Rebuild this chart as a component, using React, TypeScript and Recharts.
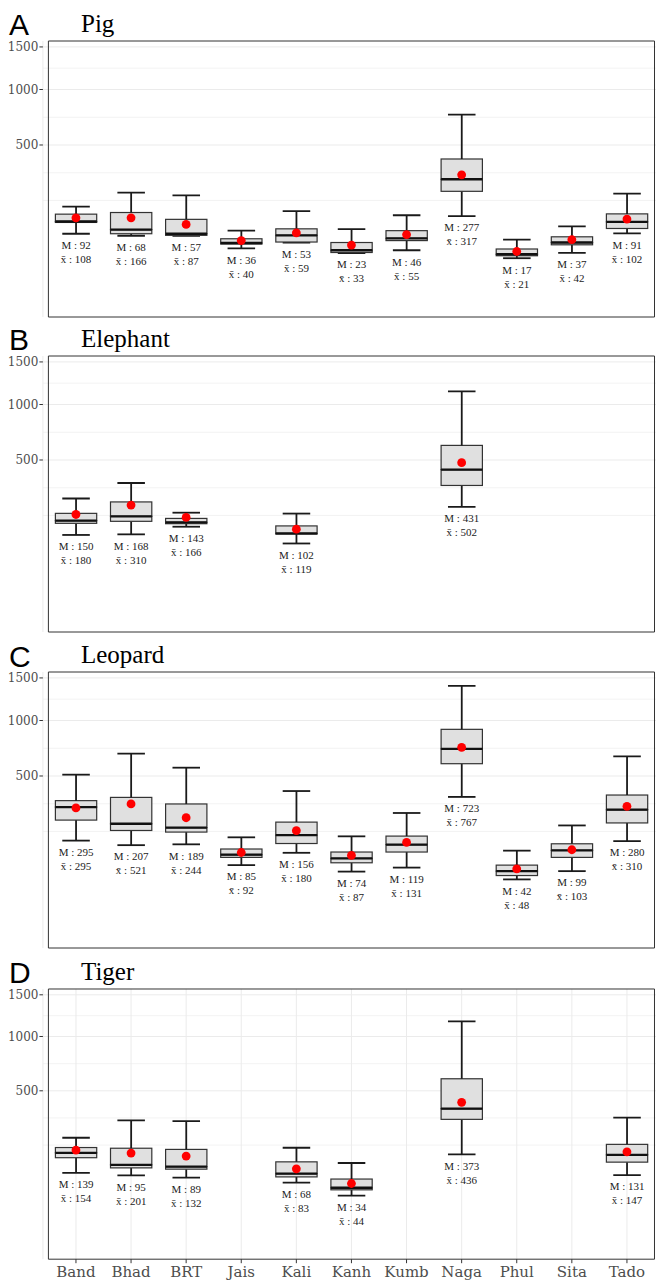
import React from "react";
import { ComposedChart, Bar, Line, XAxis, YAxis, CartesianGrid, ReferenceArea } from "recharts";

const categories = ["Band", "Bhad", "BRT", "Jais", "Kali", "Kanh", "Kumb", "Naga", "Phul", "Sita", "Tado"];
const N = null;

// Pig
const pigLow = [57, 52, 52, 26, 37, 18.5, 23, 110, 12, 19, 58];
const pigQ1 = [89, 57, 53, 34, 38, 19.5, 41, 214, 15, 32.5, 71];
const pigMedian = [92, 68, 57, 36, 53, 23, 46, 277, 17, 37, 91];
const pigQ3 = [117, 123, 99, 45, 70, 37, 65, 401, 25, 49.5, 118];
const pigHigh = [146, 208, 195, 65, 128, 69, 113, 752, 43, 77, 203];
const pigDot = [104, 104, 83, 41, 59, 32, 55, 302, 21, 43, 100];
const pigMean = [108, 166, 87, 40, 59, 33, 55, 317, 21, 42, 102];

// Elephant
const elephantLow = [97, 99, 126, N, 71, N, N, 211, N, N, N];
const elephantQ1 = [139, 147, 137.5, N, 100, N, N, 328, N, N, N];
const elephantMedian = [150, 168, 143, N, 102, N, N, 431, N, N, N];
const elephantQ3 = [181, 236, 159, N, 129, N, N, 615, N, N, N];
const elephantHigh = [254, 343, 184, N, 180, N, N, 1144, N, N, N];
const elephantDot = [176, 220, 163, N, 117, N, N, 480, N, N, N];
const elephantMean = [180, 310, 166, N, 119, N, N, 502, N, N, N];

// Leopard
const leopardLow = [134, 117, 120, 56, 91, 41, 50, 356, 26, 42, 132];
const leopardQ1 = [225, 176, 169, 77, 123, 62, 93.5, 596, 33, 77, 211];
const leopardMedian = [295, 207, 189, 85, 156, 74, 119, 723, 42, 99, 280];
const leopardQ3 = [333, 353, 313, 103.5, 215, 93.5, 152, 909, 56, 122, 368];
const leopardHigh = [510, 681, 564, 147, 394, 151, 262, 1399, 98, 199, 657];
const leopardDot = [290, 313, 237, 92, 175, 83, 127, 737, 47, 101, 299];
const leopardMean = [295, 521, 244, 92, 180, 87, 131, 767, 48, 103, 310];

// Tiger
const tigerLow = [70, 63, 57, N, 45, 20, N, 133, N, N, 64];
const tigerQ1 = [120, 85, 81, N, 59, 30, N, 306, N, N, 104];
const tigerMedian = [139, 95, 89, N, 68, 34, N, 373, N, N, 131];
const tigerQ3 = [161, 158, 153, N, 105, 53.5, N, 596, N, N, 175];
const tigerHigh = [206, 300, 296, N, 160, 101, N, 1170, N, N, 316];
const tigerDot = [150, 138, 126, N, 82, 43, N, 416, N, N, 143];
const tigerMean = [154, 201, 132, N, 83, 44, N, 436, N, N, 147];

const yBreaks = [500, 1000, 1500];
const Y_DOMAIN: [number, number] = [-6.35, 39.72];

// sqrt scale, minor breaks as ggplot does them (midpoints in transformed space)
const majorS = yBreaks.map(Math.sqrt);
const stepS = majorS[1] - majorS[0];
const extS = [majorS[0] - stepS, ...majorS];
const minorS = [extS[0], ...extS.slice(1).map((v, i) => (v + extS[i]) / 2)];

function buildRows(lo, q1, med, q3, hi, dot, mean) {
  const s = Math.sqrt;
  return categories.map((cat, i) => {
    if (lo[i] == null) return { cat };
    return {
      cat,
      lo: lo[i],
      base: s(lo[i]),
      wl: s(q1[i]) - s(lo[i]),
      bl: s(med[i]) - s(q1[i]),
      bu: s(q3[i]) - s(med[i]),
      wu: s(hi[i]) - s(q3[i]),
      dot: s(dot[i]),
      med: med[i],
      mean: mean[i],
    };
  });
}

const panels = [
  { letter: "A", title: "Pig", rows: buildRows(pigLow, pigQ1, pigMedian, pigQ3, pigHigh, pigDot, pigMean) },
  { letter: "B", title: "Elephant", rows: buildRows(elephantLow, elephantQ1, elephantMedian, elephantQ3, elephantHigh, elephantDot, elephantMean) },
  { letter: "C", title: "Leopard", rows: buildRows(leopardLow, leopardQ1, leopardMedian, leopardQ3, leopardHigh, leopardDot, leopardMean) },
  { letter: "D", title: "Tiger", rows: buildRows(tigerLow, tigerQ1, tigerMedian, tigerQ3, tigerHigh, tigerDot, tigerMean) },
];

const panelTops = [40.7, 356, 672.3, 988.7];
const panelHeights = [276, 276, 276, 270.2];

const serif = "'Liberation Serif', 'Times New Roman', serif";
const axisFont = "'DejaVu Serif', 'Liberation Serif', serif";
const LINE = "#1a1a1a";

const Empty = () => <g />;

const YTick = (p: any) => {
  const { x, y, payload } = p;
  return (
    <text x={x} y={y} dy="0.36em" textAnchor="end" fontFamily={axisFont} fontSize={12} fill="#4d4d4d">
      {String(Math.round(payload.value * payload.value))}
    </text>
  );
};

const XTick = (p: any) => {
  const { x, y, payload } = p;
  return (
    <text x={x} y={y} dy="0.71em" textAnchor="middle" fontFamily={axisFont} fontSize={15} fill="#4d4d4d">
      {payload.value}
    </text>
  );
};

const LowWhisker = (p: any) => {
  const { x, y, width, height, payload } = p;
  if (!payload || payload.lo == null) return <g />;
  const cx = x + width / 2;
  const bottom = y + height;
  const cap = width / 3;
  return (
    <g>
      <line x1={cx} x2={cx} y1={y} y2={bottom} stroke={LINE} strokeWidth={1.8} />
      <line x1={cx - cap} x2={cx + cap} y1={bottom} y2={bottom} stroke={LINE} strokeWidth={1.8} />
      <text x={cx} y={bottom + 15.3} textAnchor="middle" fontFamily={serif} fontSize={11} fill="#222">
        {"M : " + payload.med}
      </text>
      <text x={cx} y={bottom + 29.3} textAnchor="middle" fontFamily={serif} fontSize={11} fill="#222">
        {"x\u0304 : " + payload.mean}
      </text>
    </g>
  );
};

const HighWhisker = (p: any) => {
  const { x, y, width, height, payload } = p;
  if (!payload || payload.lo == null) return <g />;
  const cx = x + width / 2;
  const cap = width / 3;
  return (
    <g>
      <line x1={cx} x2={cx} y1={y} y2={y + height} stroke={LINE} strokeWidth={1.8} />
      <line x1={cx - cap} x2={cx + cap} y1={y} y2={y} stroke={LINE} strokeWidth={1.8} />
    </g>
  );
};

const BoxLower = (p: any) => {
  const { x, y, width, height, payload } = p;
  if (!payload || payload.lo == null) return <g />;
  return <rect x={x} y={y} width={width} height={height} fill="#e0e0e0" stroke="#333" strokeWidth={1.2} />;
};

const BoxUpper = (p: any) => {
  const { x, y, width, height, payload } = p;
  if (!payload || payload.lo == null) return <g />;
  return (
    <g>
      <rect x={x} y={y} width={width} height={height} fill="#e0e0e0" stroke="#333" strokeWidth={1.2} />
      <line x1={x} x2={x + width} y1={y + height} y2={y + height} stroke="#111" strokeWidth={2.3} />
    </g>
  );
};

function Panel({ idx }: { idx: number }) {
  const panel = panels[idx];
  const last = idx === panels.length - 1;
  const xH = last ? 22 : 0;
  const h = 10 + panelHeights[idx] + xH + (last ? 0 : 4);
  return (
    <div style={{ position: "absolute", left: 0, top: panelTops[idx] - 10 }}>
      <ComposedChart
        width={661}
        height={h}
        data={panel.rows}
        barSize={41.3}
        margin={{ top: 10, right: 1, bottom: last ? 0 : 4, left: 0 }}
      >
        <CartesianGrid vertical={false} horizontalValues={minorS} stroke="#f0f0f0" strokeWidth={0.8} />
        <CartesianGrid horizontalValues={majorS} stroke="#ebebeb" strokeWidth={1} />
        <XAxis
          dataKey="cat"
          type="category"
          padding={{ left: 5.5, right: 5.5 }}
          height={xH}
          axisLine={false}
          tick={last ? <XTick /> : false}
          tickLine={last ? { stroke: "#333" } : false}
          tickSize={4}
          tickMargin={3.4}
          interval={0}
        />
        <YAxis
          type="number"
          domain={Y_DOMAIN}
          allowDataOverflow
          ticks={majorS}
          width={42.9}
          axisLine={false}
          tickLine={{ stroke: "#333" }}
          tickSize={3.5}
          tickMargin={1}
          tick={<YTick />}
        />
        <Bar dataKey="base" stackId="b" shape={Empty} isAnimationActive={false} />
        <Bar dataKey="wl" stackId="b" shape={LowWhisker} isAnimationActive={false} />
        <Bar dataKey="bl" stackId="b" shape={BoxLower} isAnimationActive={false} />
        <Bar dataKey="bu" stackId="b" shape={BoxUpper} isAnimationActive={false} />
        <Bar dataKey="wu" stackId="b" shape={HighWhisker} isAnimationActive={false} />
        <Line
          dataKey="dot"
          stroke="none"
          dot={{ r: 4.4, fill: "#ff0000", stroke: "none" }}
          activeDot={false}
          isAnimationActive={false}
        />
        <ReferenceArea y1={Y_DOMAIN[0]} y2={Y_DOMAIN[1]} fill="none" stroke="#333" strokeWidth={1} ifOverflow="visible" />
      </ComposedChart>
    </div>
  );
}

export default function App() {
  return (
    <div style={{ position: "absolute", left: 0, top: 0, width: 656, height: 1280, overflow: "hidden", background: "#fff" }}>
      {panels.map((_, i) => (
        <Panel key={i} idx={i} />
      ))}
      <svg width={656} height={1280} style={{ position: "absolute", left: 0, top: 0, pointerEvents: "none" }}>
        {panels.map((p, i) => (
          <g key={p.letter}>
            <text x={9} y={panelTops[i] - 5.7} fontFamily="'Liberation Sans', Arial, sans-serif" fontSize={30} fill="#000">
              {p.letter}
            </text>
            <text x={81} y={panelTops[i] - 9.2} fontFamily={serif} fontSize={25} fill="#000">
              {p.title}
            </text>
          </g>
        ))}
      </svg>
    </div>
  );
}
